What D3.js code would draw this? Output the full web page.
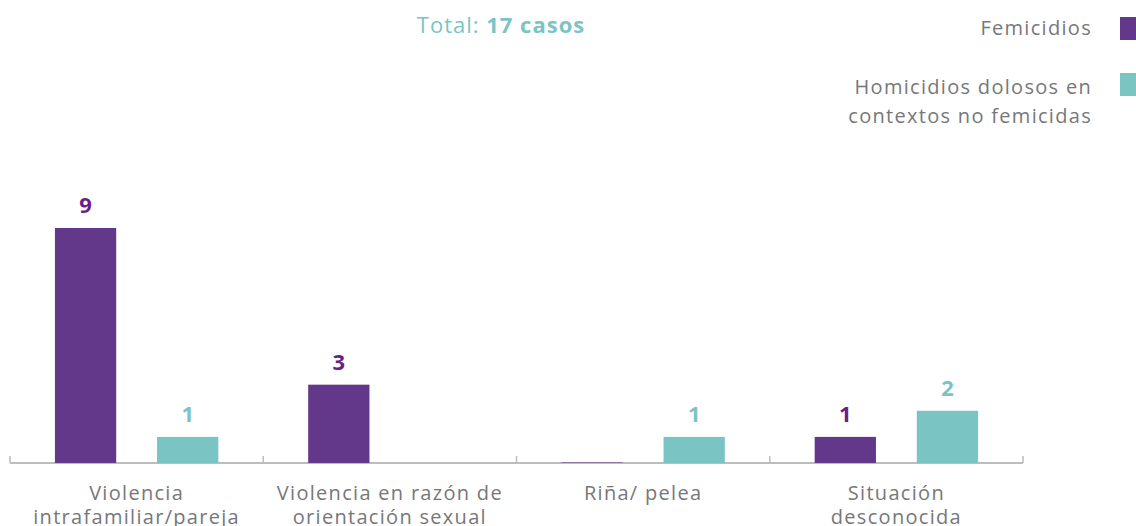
<!DOCTYPE html>
<html>
<head>
<meta charset="utf-8">
<title>Femicidios y homicidios</title>
<script src="https://d3js.org/d3.v7.min.js"></script>
<style>
  body { margin: 0; background: #fff; }
  svg { display: block; font-family: "Open Sans", Lato, sans-serif; }
</style>
</head>
<body>
<div id="chart"></div>
<script>
// datos
const categorias = [
  ["Violencia", "intrafamiliar/pareja"],
  ["Violencia en razón de", "orientación sexual"],
  ["Riña/ pelea"],
  ["Situación", "desconocida"]
]
const series = ["Femicidios", "Homicidios dolosos en contextos no femicidas"]
const leyendaLineas = [["Femicidios"], ["Homicidios dolosos en", "contextos no femicidas"]]
const femicidios = [9, 3, 0, 1]
const homicidios = [1, 0, 1, 2]
const total = 17

const colores = ["#63378a", "#7bc4c4"]
const coloresTexto = ["#6a1f86", "#7bc4c4"]

const width = 1136, height = 526
const svg = d3.select("#chart").append("svg")
  .attr("width", width).attr("height", height)

// escalas
const x0 = d3.scaleBand()
  .domain(d3.range(categorias.length))
  .range([10, 1023])
  .padding(0)

const x1 = d3.scaleBand()
  .domain([0, 1])
  .range([0, x0.bandwidth()])
  .paddingInner(0.40)
  .paddingOuter(0.44)

const y = d3.scaleLinear()
  .domain([0, 9])
  .range([463, 228])

// eje
const eje = svg.append("g").attr("transform", "translate(0,463)")
eje.append("line")
  .attr("x1", x0.range()[0]).attr("x2", x0.range()[1])
  .attr("stroke", "#bdbdbd").attr("stroke-width", 2)
const bordes = d3.range(categorias.length + 1).map(i => i < categorias.length ? x0(i) : x0.range()[1])
eje.selectAll("line.tick").data(bordes).enter().append("line")
  .attr("class", "tick")
  .attr("x1", d => d).attr("x2", d => d)
  .attr("y1", 0).attr("y2", -7)
  .attr("stroke", "#bdbdbd").attr("stroke-width", 1.5)

// barras
const datos = []
categorias.forEach((c, i) => {
  datos.push({ cat: i, s: 0, v: femicidios[i] })
  datos.push({ cat: i, s: 1, v: homicidios[i] })
})

svg.selectAll("rect.barra").data(datos).enter().append("rect")
  .attr("class", "barra")
  .attr("x", d => x0(d.cat) + x1(d.s))
  .attr("y", d => d.v === 0 ? y(0) - 1 : y(d.v))
  .attr("width", x1.bandwidth())
  .attr("height", d => d.v === 0 ? 1 : y(0) - y(d.v))
  .attr("fill", d => colores[d.s])
  .attr("opacity", d => d.v === 0 ? (d.s === 0 && homicidios[d.cat] > 0 ? 0.5 : 0) : 1)

// etiquetas de valores
svg.selectAll("text.valor").data(datos.filter(d => d.v > 0)).enter().append("text")
  .attr("class", "valor")
  .attr("x", d => x0(d.cat) + x1(d.s) + x1.bandwidth() / 2)
  .attr("y", d => y(d.v) - 15)
  .attr("text-anchor", "middle")
  .attr("font-size", 22)
  .attr("font-weight", 700)
  .attr("fill", d => coloresTexto[d.s])
  .text(d => d.v)

// etiquetas de categorias
const etiquetas = svg.selectAll("text.cat").data(categorias).enter().append("text")
  .attr("class", "cat")
  .attr("x", (d, i) => x0(i) + x0.bandwidth() / 2)
  .attr("y", 500)
  .attr("text-anchor", "middle")
  .attr("font-size", 20)
  .attr("letter-spacing", 1.3)
  .attr("fill", "#77777a")
etiquetas.selectAll("tspan").data(d => d).enter().append("tspan")
  .attr("x", function () { return this.parentNode.getAttribute("x") })
  .attr("dy", (d, i) => i === 0 ? 0 : 24)
  .text(d => d)

// titulo
const titulo = svg.append("text")
  .attr("x", 501).attr("y", 33)
  .attr("text-anchor", "middle")
  .attr("font-size", 22)
  .attr("letter-spacing", 1)
  .attr("fill", "#7bc4c4")
titulo.append("tspan").text("Total: ")
titulo.append("tspan").attr("font-weight", 700).text(total + " casos")

// leyenda
const leyendaY = [17, 73]
const leyenda = svg.selectAll("g.ley").data(series).enter().append("g")
  .attr("class", "ley")
leyenda.append("rect")
  .attr("x", 1120).attr("y", (d, i) => leyendaY[i])
  .attr("width", 16).attr("height", 23)
  .attr("fill", (d, i) => colores[i])
leyenda.append("text")
  .attr("x", 1092)
  .attr("y", (d, i) => leyendaY[i] + 18 + i * 3)
  .attr("text-anchor", "end")
  .attr("font-size", 20)
  .attr("letter-spacing", 1.3)
  .attr("fill", "#77777a")
  .selectAll("tspan").data((d, i) => leyendaLineas[i]).enter().append("tspan")
  .attr("x", 1092)
  .attr("dy", (d, i) => i === 0 ? 0 : 29)
  .text(d => d)
</script>
</body>
</html>
